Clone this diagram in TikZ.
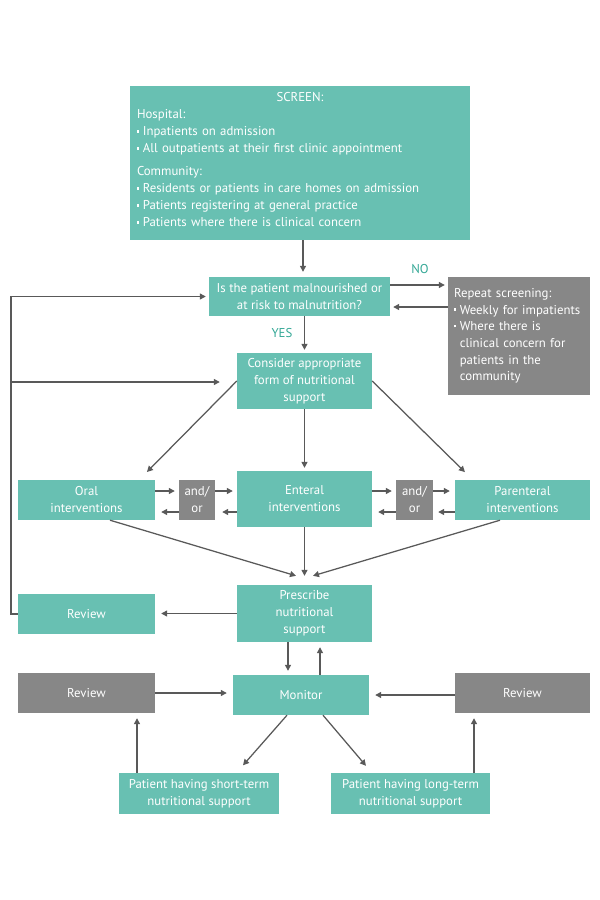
\documentclass[tikz,border=0pt]{standalone}
\usepackage{fontspec}
\setmainfont{PT Sans}
\usetikzlibrary{arrows.meta}
\definecolor{tealbox}{RGB}{104,192,178}
\definecolor{graybox}{RGB}{135,135,135}
\definecolor{linec}{RGB}{89,89,89}
\definecolor{labc}{RGB}{52,168,150}
\newcommand\bul{\rule[0.27em]{2.3pt}{2.3pt}\hspace{3.5pt}}
\newcommand\bind{\hspace*{5.8pt}}
\begin{document}
\begin{tikzpicture}[x=1pt,y=-1pt,
  box/.style={fill=tealbox, text=white, inner sep=0pt, align=center,
    font=\fontsize{12.8}{17}\selectfont},
  gbox/.style={box, fill=graybox},
  arr/.style={draw=linec, line width=1.25pt, -{Triangle[length=6pt,width=6pt]}},
  lbl/.style={text=labc, font=\fontsize{12.8}{14}\selectfont, inner sep=0pt}]
\useasboundingbox (0,0) rectangle (600,900);
\fill[white] (0,0) rectangle (600,900);

% boxes
\node[box, minimum width=340pt, minimum height=154pt] (screen) at (300,163) {};
\node[text=white, inner sep=0pt, align=left, text width=326pt,
  font=\fontsize{12.8}{17}\selectfont] (screentxt) at (300,160)
  {\makebox[326pt]{SCREEN:}\\
   Hospital:\\
   \bul Inpatients on admission\\
   \bul All outpatients at their first clinic appointment\\[6pt]
   Community:\\
   \bul Residents or patients in care homes on admission\\
   \bul Patients registering at general practice\\
   \bul Patients where there is clinical concern};

\node[box, minimum width=181pt, minimum height=39pt] (q) at (299.5,296.5)
  {Is the patient malnourished or\\at risk to malnutrition?};
\node[gbox, minimum width=142pt, minimum height=118pt, text width=130pt, align=left,
  font=\fontsize{12.8}{16.7}\selectfont] (rep) at (519,336)
  {Repeat screening:\\
   \bul Weekly for impatients\\
   \bul Where there is\\
   \bind clinical concern for\\
   \bind patients in the\\
   \bind community};
\node[box, minimum width=135pt, minimum height=56pt] (cons) at (304.5,381)
  {Consider appropriate\\form of nutritional\\support};

\node[box, minimum width=137pt, minimum height=40pt] (oral) at (86.5,500)
  {Oral\\interventions};
\node[gbox, minimum width=36pt, minimum height=40pt] (ao1) at (197,500) {and/\\or};
\node[box, minimum width=135pt, minimum height=56pt] (ent) at (304.5,499)
  {Enteral\\interventions};
\node[gbox, minimum width=37pt, minimum height=40pt] (ao2) at (414.5,500) {and/\\or};
\node[box, minimum width=135pt, minimum height=40pt] (par) at (522.5,500)
  {Parenteral\\interventions};

\node[box, minimum width=135pt, minimum height=57pt] (pres) at (304.5,613.5)
  {Prescribe\\nutritional\\support};
\node[box, minimum width=137pt, minimum height=40pt] (rev1) at (86.5,614) {Review};

\node[box, minimum width=136pt, minimum height=40pt] (mon) at (301,695) {Monitor};
\node[gbox, minimum width=137pt, minimum height=40pt] (rev2) at (86.5,693) {Review};
\node[gbox, minimum width=135pt, minimum height=40pt] (rev3) at (522.5,693) {Review};

\node[box, minimum width=160pt, minimum height=41pt] (st) at (199,793.5)
  {Patient having short-term\\nutritional support};
\node[box, minimum width=159pt, minimum height=41pt] (lt) at (410.5,793.5)
  {Patient having long-term\\nutritional support};

% labels
\node[lbl] (no) at (420,269) {NO};
\node[lbl] (yes) at (282,333) {YES};

% connectors
\draw[arr, shorten >=5pt] ([xshift=3pt]screen.south) -- ([xshift=3.5pt]q.north);
\draw[arr, shorten >=3pt] (q.east |- 0,285) -- (rep.west |- 0,285);
\draw[arr, shorten >=3pt] (rep.west |- 0,307) -- (q.east |- 0,307);
\draw[arr, shorten >=3pt] (q.south -| cons.north) -- (cons.north);

\coordinate (loopb) at (11,614);
\coordinate (loopm) at (11,382);
\draw[arr, shorten >=3pt] (rev1.west) -- (loopb) |- (q.west);
\draw[arr, shorten >=17pt] (loopm) -- (loopm -| cons.west);

\draw[arr, shorten >=11pt] (cons.west) -- ([xshift=-16pt]oral.north east);
\draw[arr, shorten >=11pt] (cons.east) -- ([xshift=18pt]par.north west);
\draw[arr, shorten >=3pt] (cons.south) -- (ent.north);

\draw[arr, shorten >=4pt] (oral.east |- 0,491) -- (ao1.west |- 0,491);
\draw[arr, shorten >=4pt] (ao1.east |- 0,491) -- (ent.west |- 0,491);
\draw[arr, shorten >=7pt] (ent.west |- 0,512) -- (ao1.east |- 0,512);
\draw[arr, shorten >=6pt] (ao1.west |- 0,512) -- (oral.east |- 0,512);
\draw[arr, shorten >=4pt] (ent.east |- 0,491) -- (ao2.west |- 0,491);
\draw[arr, shorten >=5pt] (ao2.east |- 0,491) -- (par.west |- 0,491);
\draw[arr, shorten >=5pt] (par.west |- 0,512) -- (ao2.east |- 0,512);
\draw[arr, shorten >=6pt] (ao2.west |- 0,512) -- (ent.east |- 0,512);

\draw[arr] ([xshift=23.5pt]oral.south) -- ([xshift=-8.5pt,yshift=9pt]pres.north);
\draw[arr, shorten >=9pt] (ent.south) -- (pres.north);
\draw[arr] ([xshift=-22.5pt]par.south) -- ([xshift=8.5pt,yshift=9pt]pres.north);

\draw[arr, shorten >=6pt] (pres.west) -- (pres.west -| rev1.east);
\draw[arr, shorten >=4pt] ([xshift=-16.5pt]pres.south) -- ([xshift=-16.5pt]pres.south |- mon.north);
\draw[arr, shorten >=5pt] ([xshift=19pt]mon.north) -- ([xshift=19pt]mon.north |- pres.south);

\draw[arr, shorten >=6pt] (rev2.east) -- (rev2.east -| mon.west);
\draw[arr, shorten >=6pt] ([yshift=-2pt]rev3.west) -- ([yshift=-2pt]rev3.west -| mon.east);

\draw[arr] ([xshift=-14pt]mon.south) -- ([xshift=44pt,yshift=7.5pt]st.north);
\draw[arr] ([xshift=22pt]mon.south) -- ([xshift=-44.5pt,yshift=7pt]lt.north);

\draw[arr, shorten >=5pt] ([xshift=-62pt]st.north) -- ([xshift=-62pt]st.north |- rev2.south);
\draw[arr, shorten >=5pt] ([xshift=63.5pt]lt.north) -- ([xshift=63.5pt]lt.north |- rev3.south);
\end{tikzpicture}
\end{document}
